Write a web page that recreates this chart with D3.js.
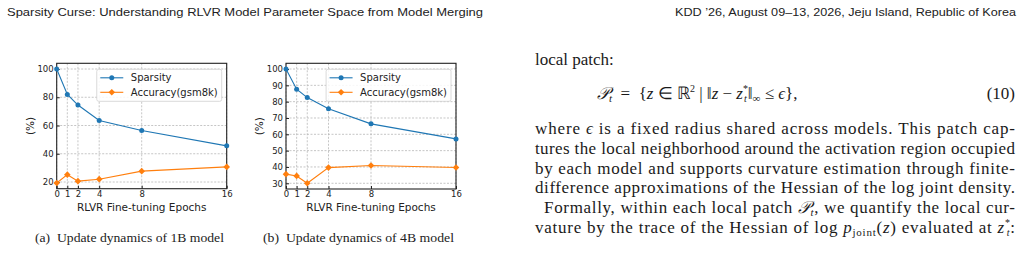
<!DOCTYPE html>
<meta charset="utf-8">
<style>
  body { margin: 0; background: #fff; }
  svg { display: block; }
  .tick text { font: 8.5px "DejaVu Sans", sans-serif; fill: #222; }
  .axis-label { font: 10.5px "DejaVu Sans", sans-serif; fill: #222; }
  .legend text { font: 10px "DejaVu Sans", sans-serif; fill: #222; }
  .caption { font: 12px "Liberation Serif", serif; fill: #222; }
  .header { font: 11px "Liberation Sans", sans-serif; fill: #222; }
  .body { font: 17px "Liberation Serif", serif; fill: #1a1a1a; }
</style>
<svg width="1024" height="253"></svg>
<script src="https://d3js.org/d3.v7.min.js"></script>
<script>

  var epochs = [0, 1, 2, 4, 8, 16];
  var sparsity1B = [100, 82, 74.5, 63.5, 56.5, 45.6];
  var accuracy1B = [19.3, 25.2, 20.6, 22, 27.7, 30.7];
  var sparsity4B = [100, 87.6, 82.5, 75.6, 66.4, 57.2];
  var accuracy4B = [35.6, 34.5, 30, 39.6, 40.9, 39.7];
  var yTicks1B = [20, 40, 60, 80, 100];
  var yTicks4B = [30, 40, 50, 60, 70, 80, 90, 100];
  var seriesNames = ["Sparsity", "Accuracy(gsm8k)"];
  var xLabel = "RLVR Fine-tuning Epochs";
  var yLabel = "(%)";
  var captions = ["(a)\u2002Update dynamics of 1B model", "(b)\u2002Update dynamics of 4B model"];

  var blue = "#1f77b4", orange = "#ff7f0e";

  var svg = d3.select("svg");
  svg.append("rect").attr("width", 1024).attr("height", 253).attr("fill", "#fff");

  // running header
  svg.append("text").attr("class", "header").attr("x", 7).attr("y", 16)
      .attr("textLength", 476).attr("lengthAdjust", "spacingAndGlyphs")
      .text("Sparsity Curse: Understanding RLVR Model Parameter Space from Model Merging");
  svg.append("text").attr("class", "header").attr("x", 675).attr("y", 16)
      .attr("textLength", 341).attr("lengthAdjust", "spacingAndGlyphs")
      .text("KDD \u201926, August 09\u201313, 2026, Jeju Island, Republic of Korea");

  function panel(left, right, top, bottom, sparsity, accuracy, yTicks, caption, capX, capW) {
    var g = svg.append("g");
    var all = sparsity.concat(accuracy);
    var lo = d3.min(all), hi = d3.max(all), pad = (hi - lo) * 0.05;
    var x = d3.scaleLinear().domain([0, 16]).range([left, right]);
    var y = d3.scaleLinear().domain([lo - pad, hi + pad]).range([bottom, top]);

    // grid
    g.selectAll(".gx").data(epochs).enter().append("line")
        .attr("x1", d => x(d)).attr("x2", d => x(d)).attr("y1", top).attr("y2", bottom)
        .attr("stroke", "#b8b8b8").attr("stroke-width", 0.8).attr("stroke-dasharray", "2,1.5");
    g.selectAll(".gy").data(yTicks).enter().append("line")
        .attr("y1", d => y(d)).attr("y2", d => y(d)).attr("x1", left).attr("x2", right)
        .attr("stroke", "#b8b8b8").attr("stroke-width", 0.8).attr("stroke-dasharray", "2,1.5");

    // axes
    g.append("g").attr("transform", "translate(0," + bottom + ")")
        .call(d3.axisBottom(x).tickValues(epochs).tickSizeInner(-3).tickSizeOuter(0).tickPadding(2))
        .call(a => a.select(".domain").remove())
        .call(a => a.selectAll(".tick line").attr("stroke", "#222"));
    g.append("g").attr("transform", "translate(" + left + ",0)")
        .call(d3.axisLeft(y).tickValues(yTicks).tickSizeInner(-3).tickSizeOuter(0).tickPadding(3))
        .call(a => a.select(".domain").remove())
        .call(a => a.selectAll(".tick line").attr("stroke", "#222"));

    g.append("rect").attr("x", left).attr("y", top).attr("width", right - left).attr("height", bottom - top)
        .attr("fill", "none").attr("stroke", "#222").attr("stroke-width", 1.1);

    g.append("text").attr("class", "axis-label").attr("x", (left + right) / 2).attr("y", bottom + 22)
        .attr("text-anchor", "middle").text(xLabel);
    g.append("text").attr("class", "axis-label")
        .attr("transform", "translate(" + (left - 23) + "," + (top + bottom) / 2 + ") rotate(-90)")
        .attr("text-anchor", "middle").text(yLabel);

    var line = d3.line().x((d, i) => x(epochs[i])).y(d => y(d));
    g.append("path").datum(sparsity).attr("d", line).attr("fill", "none").attr("stroke", blue).attr("stroke-width", 1.1);
    g.append("path").datum(accuracy).attr("d", line).attr("fill", "none").attr("stroke", orange).attr("stroke-width", 1.1);
    g.selectAll(".ms").data(sparsity).enter().append("circle")
        .attr("cx", (d, i) => x(epochs[i])).attr("cy", d => y(d)).attr("r", 2.5).attr("fill", blue);
    var diamond = d3.symbol(d3.symbolSquare, 22);
    g.selectAll(".ma").data(accuracy).enter().append("path").attr("d", diamond)
        .attr("transform", (d, i) => "translate(" + x(epochs[i]) + "," + y(d) + ") rotate(45)").attr("fill", orange);

    // legend
    var leg = g.append("g").attr("class", "legend");
    var box = leg.append("rect").attr("rx", 2).attr("fill", "#fff").attr("fill-opacity", 0.85)
        .attr("stroke", "#d0d0d0").attr("stroke-width", 0.8);
    var texts = [];
    seriesNames.forEach(function(name, i) {
      var cy = 8.5 + i * 14.5;
      leg.append("line").attr("x1", 3.5).attr("x2", 26.5).attr("y1", cy).attr("y2", cy)
          .attr("stroke", i ? orange : blue).attr("stroke-width", 1.1);
      if (i) leg.append("path").attr("d", diamond).attr("transform", "translate(15," + cy + ") rotate(45)").attr("fill", orange);
      else leg.append("circle").attr("cx", 15).attr("cy", cy).attr("r", 2.5).attr("fill", blue);
      texts.push(leg.append("text").attr("x", 34).attr("y", cy + 3.6).text(name));
    });
    var w = 34 + d3.max(texts, t => t.node().getComputedTextLength()) + 4;
    box.attr("width", w).attr("height", 32);
    leg.attr("transform", "translate(" + (right - 5 - w) + "," + (top + 6) + ")");

    svg.append("text").attr("class", "caption").attr("x", capX).attr("y", 242)
        .attr("textLength", capW).attr("lengthAdjust", "spacingAndGlyphs").text(caption);
  }

  panel(56.7, 226.7, 63.3, 188.7, sparsity1B, accuracy1B, yTicks1B, captions[0], 35, 189);
  panel(286, 456, 63.3, 189, sparsity4B, accuracy4B, yTicks4B, captions[1], 263, 191);

  // body text column
  var colX = 535, colW = 480;
  svg.append("text").attr("class", "body").attr("x", colX).attr("y", 65).text("local patch:");

  var eq = svg.append("text").attr("class", "body").attr("x", 597).attr("y", 99);
  eq.append("tspan").style("font-style", "italic").text("\uD835\uDCAB");
  eq.append("tspan").attr("dy", 3).style("font-size", "11px").style("font-style", "italic").text("t");
  eq.append("tspan").attr("dy", -3).text("\u2002=\u2002{");
  eq.append("tspan").style("font-style", "italic").text("z");
  eq.append("tspan").text(" \u2208 \u211D");
  eq.append("tspan").attr("dy", -7).style("font-size", "10px").text("2");
  eq.append("tspan").attr("dy", 7).text(" | \u2016");
  eq.append("tspan").style("font-style", "italic").text("z");
  eq.append("tspan").text(" \u2212 ");
  eq.append("tspan").style("font-style", "italic").text("z");
  eq.append("tspan").attr("dy", -7).style("font-size", "10px").text("*");
  eq.append("tspan").attr("dx", -4).attr("dy", 10).style("font-size", "10px").style("font-style", "italic").text("t");
  eq.append("tspan").attr("dx", 1).attr("dy", -3).text("\u2016");
  eq.append("tspan").attr("dy", 3).style("font-size", "11px").text("\u221E");
  eq.append("tspan").attr("dy", -3).text(" \u2264 ");
  eq.append("tspan").style("font-style", "italic").text("\u03F5");
  eq.append("tspan").text("},");
  svg.append("text").attr("class", "body").attr("x", 1015).attr("y", 99).attr("text-anchor", "end").text("(10)");

  function bodyLine(y, indent, parts) {
    var t = svg.append("text").attr("class", "body").attr("x", colX + indent).attr("y", y)
        .attr("textLength", colW - indent).attr("lengthAdjust", "spacing");
    parts.forEach(function(p) {
      if (typeof p === "string") t.append("tspan").text(p);
      else {
        var s = t.append("tspan").text(p.t);
        if (p.i) s.style("font-style", "italic");
        if (p.dy) s.attr("dy", p.dy);
        if (p.dx) s.attr("dx", p.dx);
        if (p.s) s.style("font-size", p.s + "px");
      }
    });
  }
  var ls = 19.8, y0 = 134;
  bodyLine(y0, 0, ["where ", {t: "\u03F5", i: 1}, " is a fixed radius shared across models. This patch cap-"]);
  bodyLine(y0 + ls, 0, ["tures the local neighborhood around the activation region occupied"]);
  bodyLine(y0 + 2 * ls, 0, ["by each model and supports curvature estimation through finite-"]);
  bodyLine(y0 + 3 * ls, 0, ["difference approximations of the Hessian of the log joint density."]);
  bodyLine(y0 + 4 * ls, 9, ["Formally, within each local patch ", {t: "\uD835\uDCAB", i: 1}, {t: "t", i: 1, dy: 3, s: 11},
    {t: ", we quantify the local cur-", dy: -3}]);
  bodyLine(y0 + 5 * ls, 0, ["vature by the trace of the Hessian of log ", {t: "p", i: 1}, {t: "joint", dy: 3, s: 11},
    {t: "(", dy: -3}, {t: "z", i: 1}, ") evaluated at ", {t: "z", i: 1}, {t: "*", dy: -7, s: 10},
    {t: "t", i: 1, dx: -4, dy: 10, s: 10}, {t: ":", dy: -3}]);

</script>
